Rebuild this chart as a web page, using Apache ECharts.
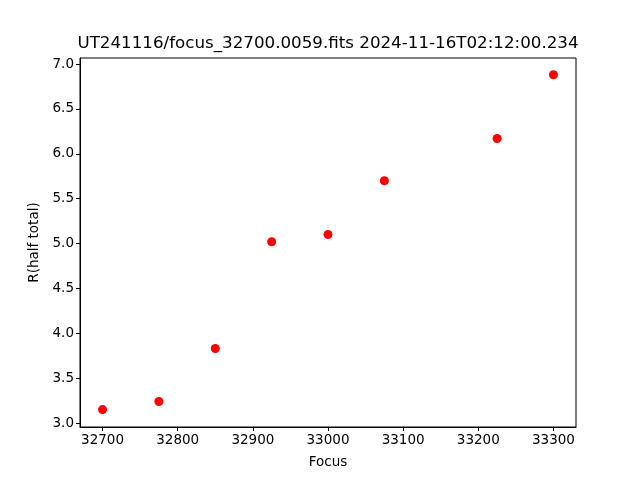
<!DOCTYPE html>
<html><head><meta charset="utf-8">
<script src="https://cdn.jsdelivr.net/npm/echarts@6/dist/echarts.min.js"></script>
<style>html,body{margin:0;padding:0;background:#fff}#c{width:640px;height:480px}</style>
</head><body><div id="c"></div>
<script>
const titleText = 'UT241116/focus_32700.0059.fits 2024-11-16T02:12:00.234';
const focus = [32700, 32775, 32850, 32925, 33000, 33075, 33225, 33300];
const rHalf = [3.15, 3.24, 3.83, 5.02, 5.10, 5.70, 6.17, 6.88];
const xTicks = [32700, 32800, 32900, 33000, 33100, 33200, 33300];
const yTicks = [3.0, 3.5, 4.0, 4.5, 5.0, 5.5, 6.0, 6.5, 7.0];
const font = 'DejaVu Sans';
const chart = echarts.init(document.getElementById('c'), null, {renderer:'canvas'});
const axisCommon = {
  axisLine:{show:true,onZero:false,lineStyle:{color:'#000',width:1}},
  axisTick:{show:true,inside:false,length:4,lineStyle:{color:'#000'}},
  splitLine:{show:false},
  axisLabel:{color:'#000',fontFamily:font,fontSize:13.5},
  nameTextStyle:{color:'#000',fontFamily:font,fontSize:13.5}
};
chart.setOption({
  animation:false,
  backgroundColor:'#fff',
  graphic:[{type:'text',x:328,y:44,style:{text:titleText,x:0,y:0,align:'center',verticalAlign:'middle',font:'16.7px "DejaVu Sans"',fill:'#000'}}],
  grid:{left:80,right:64,top:58,bottom:53,show:true,borderColor:'#000',borderWidth:1},
  xAxis:Object.assign({},axisCommon,{type:'value',min:32670,max:33330,name:'Focus',nameLocation:'middle',nameGap:28,
    axisLabel:Object.assign({},axisCommon.axisLabel,{margin:6,customValues:xTicks,formatter:v=>String(v)}),
    axisTick:Object.assign({},axisCommon.axisTick,{customValues:xTicks})}),
  yAxis:Object.assign({},axisCommon,{type:'value',min:2.956,max:7.067,name:'R(half total)',nameLocation:'middle',nameGap:39,
    axisLabel:Object.assign({},axisCommon.axisLabel,{margin:6,customValues:yTicks,formatter:v=>v.toFixed(1)}),
    axisTick:Object.assign({},axisCommon.axisTick,{customValues:yTicks})}),
  series:[{type:'scatter',data:focus.map((f,i)=>[f,rHalf[i]]),symbol:'circle',symbolSize:9,itemStyle:{color:'#ff0000',opacity:1}}]
});
</script></body></html>
